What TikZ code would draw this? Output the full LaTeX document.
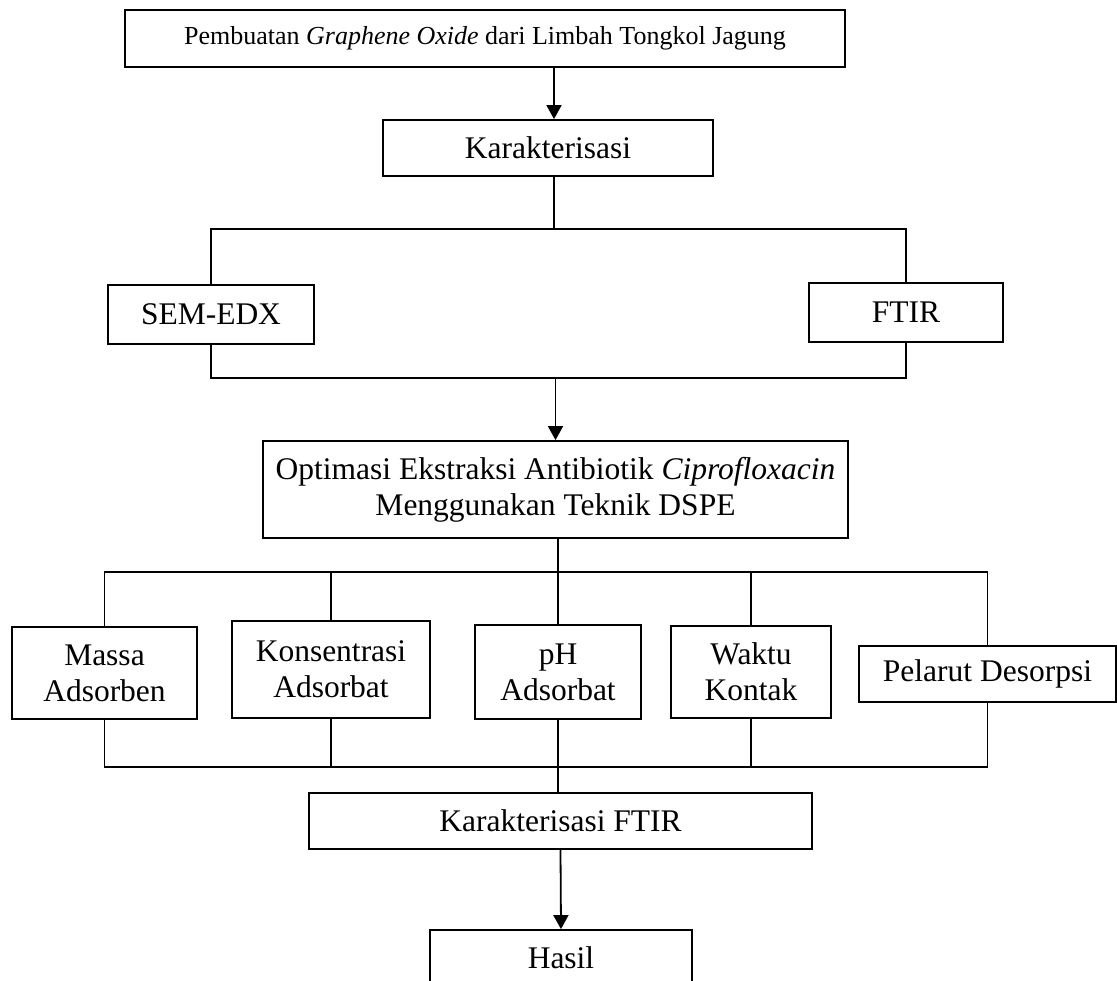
\documentclass[tikz,border=0pt]{standalone}
\usepackage{fontspec}
\setmainfont{Liberation Serif}
\usetikzlibrary{arrows.meta,positioning,calc}

\begin{document}
\begin{tikzpicture}[x=1pt,y=-1pt,
  box/.style={draw,line width=1.8pt,inner sep=0pt,align=center,font=\fontsize{31.5}{36}\selectfont},
  ln/.style={line width=1.8pt},
  arr/.style={line width=1.8pt,-{Triangle[length=14pt,width=15pt]}}]
\useasboundingbox (0,0) rectangle (1117,981);

%% top: making and characterisation
\node[box,minimum width=720pt,minimum height=57pt,font=\fontsize{26}{31}\selectfont] (bikin) at (485,38.5)
  {Pembuatan \textit{Graphene Oxide} dari Limbah Tongkol Jagung};
\node[box,minimum width=330pt,minimum height=56pt] (kar) at (548,148) {Karakterisasi};
\node[box,minimum width=206pt,minimum height=59pt] (sem) at (211,314.5) {SEM-EDX};
\node[box,minimum width=194pt,minimum height=59pt] (ftir) at (906,312.5) {FTIR};

\coordinate (ktop) at (554,229);
\coordinate (kbot) at (554,378);
\draw[arr] (bikin.south -| ktop) -- (kar.north -| ktop);
\draw[ln] (kar.south -| ktop) -- (ktop);
\draw[ln] (sem.north) -- (sem.north |- ktop) -- (ftir.north |- ktop) -- (ftir.north);
\draw[ln] (sem.south) -- (sem.south |- kbot) -- (ftir.south |- kbot) -- (ftir.south);

%% middle: DSPE optimisation
\node[box,minimum width=585pt,minimum height=97pt] (opt) at (555.5,489.5)
  {Optimasi Ekstraksi Antibiotik \textit{Ciprofloxacin}\\Menggunakan Teknik DSPE};
\draw[arr] (opt.north |- kbot) -- (opt.north);

\node[box,minimum width=185pt,minimum height=92pt] (massa) at (104.5,673) {Massa\\Adsorben};
\node[box,minimum width=198pt,minimum height=97pt] (kons) at (331,669.5) {Konsentrasi\\Adsorbat};
\node[box,minimum width=166pt,minimum height=94pt] (ph) at (558,672) {pH\\Adsorbat};
\node[box,minimum width=160pt,minimum height=92pt] (waktu) at (751,672) {Waktu\\Kontak};
\node[box,minimum width=257pt,minimum height=56pt] (pel) at (987.5,674) {Pelarut Desorpsi};

\coordinate (otop) at (0,572);
\coordinate (obot) at (0,767);
\draw[ln] (opt.south -| ph.north) -- (ph.north |- otop);
\draw[ln] (massa.north) -- (massa.north |- otop) -- (pel.north |- otop) -- (pel.north);
\draw[ln] (massa.south) -- (massa.south |- obot) -- (pel.south |- obot) -- (pel.south);
\foreach \b in {kons,ph,waktu} {
  \draw[ln] (\b.north) -- (\b.north |- otop);
  \draw[ln] (\b.south) -- (\b.south |- obot);
}

%% bottom: FTIR and result
\node[box,minimum width=503pt,minimum height=56pt] (kf) at (560.5,821) {Karakterisasi FTIR};
\node[box,minimum width=262pt,minimum height=56pt] (hasil) at (561,958) {Hasil};
\draw[ln] (ph.south |- obot) -- (ph.south |- kf.north);
\draw[arr] (kf.south) -- (hasil.north);
\end{tikzpicture}
\end{document}
